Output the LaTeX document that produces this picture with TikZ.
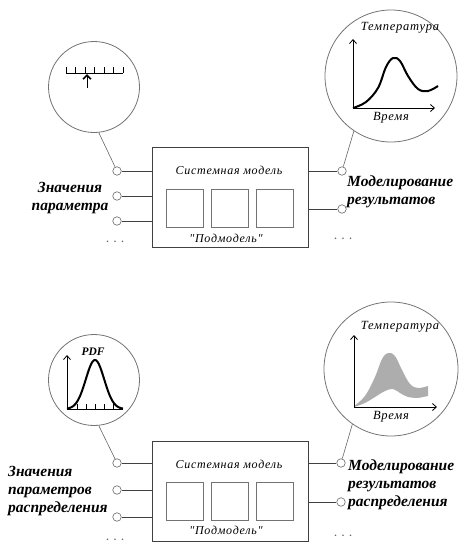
\documentclass[tikz,border=0pt]{standalone}
\usepackage{fontspec}
\setmainfont{Liberation Serif}
\newfontfamily\widefont[LetterSpace=6]{Liberation Serif}
\usepackage{tikz}
\usetikzlibrary{arrows.meta}
\tikzset{
  lens/.style={draw=black!55, circle, thick, inner sep=0pt},
  port/.style={draw=black!60, circle, semithick, fill=white, minimum size=8.5pt, inner sep=0pt},
  sysbox/.style={draw=black!75, semithick, minimum width=156pt, minimum height=100pt},
  subbox/.style={draw=black!55, thick, minimum width=37pt, minimum height=38pt},
  portline/.style={draw=black!75, semithick},
  lensline/.style={draw=black!60, semithick},
  axis/.style={-{Straight Barb[length=4pt, width=7pt]}, thick},
  curve/.style={line width=2pt, line join=round},
  bigtext/.style={font=\fontsize{15.5}{18}\selectfont\bfseries\itshape, align=left, inner sep=0pt},
  boxtext/.style={font=\widefont\fontsize{12}{14}\selectfont\itshape, inner sep=0pt},
  plottext/.style={font=\widefont\fontsize{12.5}{14}\selectfont\itshape, inner sep=0pt},
  dots/.style={font=\normalsize\bfseries, text=black!60, inner sep=0pt}
}

\begin{document}
\begin{tikzpicture}[x=1pt, y=-1pt]
  \useasboundingbox (0,0) rectangle (460,544);

  % upper panel: one parameter value
  \node[sysbox] (sysA) at (230,197) {};
  \node[boxtext] (titleA) at (229,170) {Системная модель};
  \node[subbox] (subA1) at (184.5,208) {};
  \node[subbox] (subA2) at (230,208) {};
  \node[subbox] (subA3) at (274.5,208) {};
  \node[boxtext] (subtextA) at (226,238) {"Подмодель"};

  \node[port] (inA1) at (117,171) {};
  \node[port] (inA2) at (117,196) {};
  \node[port] (inA3) at (117,221) {};
  \node[dots] (dotsInA) at (115,242) {.\ \ .\ \ .};
  \draw[portline] (inA1) -- (inA1 -| sysA.west);
  \draw[portline] (inA2) -- (inA2 -| sysA.west);
  \draw[portline] (inA3) -- (inA3 -| sysA.west);
  \node[bigtext, align=center] (labelInA) at (70,198) {Значения\\параметра};

  \node[port] (outA1) at (342,171) {};
  \node[port] (outA2) at (342,209) {};
  \node[dots] (dotsOutA) at (343,239) {.\ \ .\ \ .};
  \draw[portline] (outA1) -- (outA1 -| sysA.east);
  \draw[portline] (outA2) -- (outA2 -| sysA.east);
  \node[bigtext, anchor=west] (labelOutA) at (347,192) {Моделирование\\результатов};

  \node[lens, minimum size=91pt] (gaugeA) at (94,87) {};
  \draw[lensline] (gaugeA.-84) -- (inA1);
  \draw (66,73) -- (123,73);
  \foreach \x in {66,75.5,...,123} \draw (\x,73) -- (\x,67);
  \draw[-{Straight Barb[length=4pt, width=8pt, line width=1.6pt]}] (87,88) -- (87,74);

  \node[lens, minimum size=132pt] (tempA) at (391,76) {};
  \draw[lensline] (tempA.-124) -- (outA1);
  \draw[axis] (353,108) -- (353,39);
  \draw[axis] (353,108) -- (435,108);
  \draw[curve] plot[smooth, tension=0.6] coordinates {(353,108) (366,102) (378,88) (386,67) (393,58) (400,61) (408,76) (418,89) (428,91) (438,86)};
  \node[plottext] (tempTitleA) at (400,28) {Температура};
  \node[plottext] (timeA) at (391,118) {Время};

  % lower panel: parameter distributions
  \node[sysbox] (sysB) at (230,491) {};
  \node[boxtext] (titleB) at (229,464) {Системная модель};
  \node[subbox] (subB1) at (184.5,501.5) {};
  \node[subbox] (subB2) at (230,501.5) {};
  \node[subbox] (subB3) at (274.5,501.5) {};
  \node[boxtext] (subtextB) at (226,530) {"Подмодель"};

  \node[port] (inB1) at (117,463) {};
  \node[port] (inB2) at (117,490) {};
  \node[port] (inB3) at (117,517) {};
  \node[dots] (dotsInB) at (115,540) {.\ \ .\ \ .};
  \draw[portline] (inB1) -- (inB1 -| sysB.west);
  \draw[portline] (inB2) -- (inB2 -| sysB.west);
  \draw[portline] (inB3) -- (inB3 -| sysB.west);
  \node[bigtext, anchor=west] (labelInB) at (8,491) {Значения\\параметров\\распределения};

  \node[port] (outB1) at (341,463) {};
  \node[port] (outB2) at (341,502) {};
  \node[dots] (dotsOutB) at (343,536) {.\ \ .\ \ .};
  \draw[portline] (outB1) -- (outB1 -| sysB.east);
  \draw[portline] (outB2) -- (outB2 -| sysB.east);
  \node[bigtext, anchor=west] (labelOutB) at (348,485) {Моделирование\\результатов\\распределения};

  \node[lens, minimum size=91pt] (pdfB) at (94,380) {};
  \draw[lensline] (pdfB.-84) -- (inB1);
  \draw[axis] (67,409) -- (67,355);
  \draw[thick] (67,409) -- (123,409);
  \foreach \x in {77,86,95,104,113} \draw[thick] (\x,409) -- (\x,404);
  \draw[curve] plot[domain=67:123, samples=60] (\x, {409-49*exp(-((\x-95)/13)*((\x-95)/13))});
  \node[plottext, font=\fontsize{11.5}{13}\selectfont\bfseries\itshape] (pdfTitle) at (93,352) {PDF};

  \node[lens, minimum size=134pt] (tempB) at (391,369) {};
  \draw[lensline] (tempB.-125) -- (outB1);
  \fill[black!32] plot[smooth, tension=0.6] coordinates {(354,406) (365,396) (375,377) (382,359) (388,353) (395,356) (402,370) (410,384) (418,388) (428,386)}
    -- (428,396) -- plot[smooth, tension=0.6] coordinates {(418,398) (408,397) (400,393) (393,389) (385,391) (375,397) (365,403) (354,407)} -- cycle;
  \draw[axis] (354,407) -- (354,335);
  \draw[axis] (354,407) -- (437,407);
  \node[plottext] (tempTitleB) at (400,327) {Температура};
  \node[plottext] (timeB) at (391,417) {Время};
\end{tikzpicture}
\end{document}
